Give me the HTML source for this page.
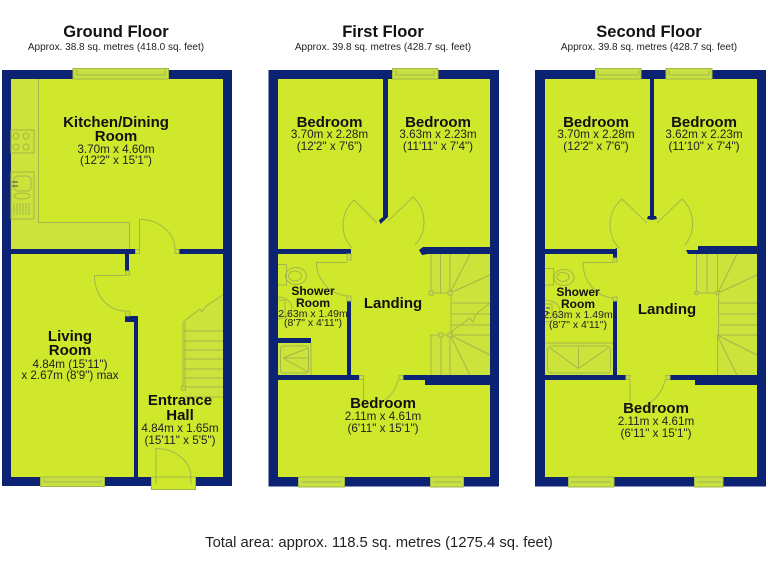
<!DOCTYPE html>
<html><head><meta charset="utf-8"><style>
html,body{margin:0;padding:0;background:#fff;width:768px;height:576px;overflow:hidden}
svg{display:block}
text{font-family:"Liberation Sans",sans-serif;fill:#1a1a1a;text-anchor:middle}
.t{font-size:16.5px;font-weight:bold;fill:#111}
.s{font-size:10px;fill:#222}
.n{font-size:15px;font-weight:bold;fill:#111}
.d{font-size:11.7px;fill:#222}
.sn{font-size:12px;font-weight:bold;fill:#111}
.sd{font-size:10.5px;fill:#222}
.w{fill:#0c2272}
.f{fill:#cfe82c}
.l{fill:none;stroke:#a3b84a;stroke-width:1}
.p{fill:#c9e043;stroke:#a3b84a;stroke-width:1}
.g{fill:#cbe33a}
</style></head><body>
<svg width="768" height="576" viewBox="0 0 768 576" xmlns="http://www.w3.org/2000/svg">
<!-- ground floor -->
<rect class="w" x="2" y="70" width="230" height="416"/>
<rect class="f" x="11" y="79" width="212" height="398"/>
<path class="g" d="M11 79H39V222H130V249H11Z"/>
<path class="l" d="M38.500 79V222.500H129.500V249"/>
<rect class="w" x="11" y="249" width="124" height="5"/>
<rect class="w" x="179" y="249" width="44" height="5"/>
<rect class="w" x="125" y="254" width="4" height="17"/>
<path class="w" d="M125 316H138V477H134V322H125Z"/>
<rect class="p" x="135.500" y="249.500" width="4" height="4"/>
<rect class="p" x="175" y="249.500" width="4" height="4"/>
<rect class="p" x="125.500" y="271" width="4" height="4"/>
<rect class="p" x="125.500" y="311" width="4" height="5"/>
<path class="l" d="M139.500 249V219.500A35 30 0 0 1 175 249"/>
<path class="l" d="M125 275.500H94.500A31 35 0 0 0 125 311"/>
<!-- kitchen fittings -->
<rect class="l" x="11" y="130" width="23" height="23"/>
<circle class="l" cx="16" cy="136" r="3"/><circle class="l" cx="26" cy="136" r="3"/>
<circle class="l" cx="16" cy="147" r="3"/><circle class="l" cx="26" cy="147" r="3"/>
<rect class="l" x="11" y="172" width="23" height="47"/>
<rect class="l" x="14" y="176" width="17" height="15" rx="4"/>
<ellipse class="l" cx="22" cy="196" rx="8" ry="3"/>
<path class="l" d="M14 203V215M17 203V215M20 203V215M23 203V215M26 203V215M29 203V215"/>
<path d="M12 182H18M12 186H18" stroke="#445" stroke-width="1" fill="none"/>
<!-- stairs ground -->
<path class="g" d="M183 322L223 295V397H183Z"/>
<path class="l" d="M183 322L200 309L202 312L206 306L223 295M183 322V388M185 322V388M183 331H223M183 341H223M183 350H223M183 359H223M183 369H223M183 378H223M183 387H223M185 397H223"/>
<rect class="p" x="181.500" y="386" width="4" height="4"/>
<!-- ground windows/doors -->
<path class="p" d="M73 79V68.500H168.500V79Z"/><path class="l" d="M76 75H166M77 70V75M165 70V75"/>
<path class="p" d="M40.500 477V486.500H104.500V477Z"/><path class="l" d="M44 482H101M44 479V482M101 479V482"/>
<rect class="f" x="151" y="477" width="44" height="13"/>
<rect class="l" x="151.500" y="477" width="44" height="12.500"/>
<path class="l" d="M156 477V448.500A35 29 0 0 1 191 477M156 477V484M191 477V484"/>
<!-- first floor -->
<rect class="w" x="268.500" y="70" width="230.500" height="416.500"/>
<rect class="f" x="278" y="79" width="212" height="398"/>
<rect class="w" x="383" y="79" width="5" height="138"/>
<path class="w" d="M383 217H388L380.500 224L379 220Z"/>
<rect class="w" x="278" y="249" width="70" height="5"/>
<path class="w" d="M347 249H351V254H347Z"/>
<path class="w" d="M419 250L423 247H490V254H428L422 255Z"/>
<rect class="w" x="347" y="301" width="4" height="74"/>
<rect class="w" x="278" y="375" width="81" height="5"/>
<path class="w" d="M403 375H490V385H425V380H403Z"/>
<rect class="w" x="278" y="338" width="33" height="5"/>
<rect class="p" x="347" y="254" width="4" height="6"/>
<rect class="p" x="347" y="296" width="4" height="5"/>
<rect class="p" x="359.500" y="375.500" width="4" height="4"/>
<rect class="p" x="399" y="375.500" width="4" height="4"/>
<path class="l" d="M377 223L354 200A34 34 0 0 0 352 248M388 221L413 197A34 34 0 0 1 415 245"/>
<path class="l" d="M347 262.500H316.500A34 34 0 0 0 347 296"/>
<path class="l" d="M363.500 380V402M398 380A36 36 0 0 1 382 402"/>
<!-- first fittings -->
<path class="l" d="M278 264.500H286.500V285H278"/><ellipse class="l" cx="296" cy="276" rx="10.500" ry="8.500"/><ellipse class="l" cx="295" cy="276" rx="6.500" ry="5"/>
<path class="l" d="M278 297A14 11 0 0 1 278 319M278 300H285V316H278"/>
<rect class="g" x="278" y="343" width="33" height="32"/>
<rect class="l" x="280.500" y="346" width="28" height="27" rx="3"/>
<path class="l" d="M283 358L308 348M283 358L308 372M283 358H308"/>
<path class="l" d="M311 343V375"/>
<!-- first stairs -->
<path class="g" d="M431 254H490V375H431V335H451V293H431Z"/>
<path class="l" d="M431 254V293M440.500 254V293M450 254V293M430 293H450M450 293L470 254M450 293L490 275M451 293V335M451 303H490M451 314H490M451 325H490M451 335H490M451 332L470 318L473 322L476 314L490 303M431 335V375M441 335V375M450 335V375M430 335H450M450 335L490 355M450 335L470 375"/>
<rect class="p" x="429" y="291" width="4" height="4"/><rect class="p" x="448" y="291" width="4" height="4"/>
<rect class="p" x="439" y="333" width="4" height="4"/><rect class="p" x="448" y="333" width="4" height="4"/>
<!-- first windows -->
<path class="p" d="M392.500 79V68.500H438V79Z"/><path class="l" d="M395 75H435M396 70V75M434 70V75"/>
<path class="p" d="M298.500 477V487H344.500V477Z"/><path class="l" d="M301 482H342"/>
<path class="p" d="M430.500 477V487H463.500V477Z"/><path class="l" d="M433 482H461"/>
<!-- second floor -->
<rect class="w" x="535" y="70" width="231" height="416.500"/>
<rect class="f" x="545" y="79" width="212" height="398"/>
<rect class="w" x="650" y="79" width="4" height="138"/>
<path class="w" d="M648 216H656L657 219L652 220L647 219Z"/>
<rect class="w" x="545" y="249" width="70" height="5"/>
<path class="w" d="M613 250L617 248V258H613Z"/>
<path class="w" d="M686 250H698V246H757V254H688Z"/>
<rect class="w" x="613" y="301" width="4" height="74"/>
<rect class="w" x="545" y="375" width="81" height="5"/>
<path class="w" d="M670 375H757V385H695V380H670Z"/>
<rect class="p" x="613" y="258" width="4" height="4"/>
<rect class="p" x="613" y="297" width="4" height="4"/>
<rect class="p" x="626" y="375.500" width="4" height="4"/>
<rect class="p" x="666" y="375.500" width="4" height="4"/>
<path class="l" d="M647 223L622 199A34 34 0 0 0 619 248M657 223L682 199A34 34 0 0 1 685 245"/>
<path class="l" d="M613 262.500H583A32 36 0 0 0 613 298"/>
<path class="l" d="M630 380V402M665 380A36 36 0 0 1 646 405"/>
<!-- second fittings -->
<path class="l" d="M545 268.500H553.500V285H545"/><ellipse class="l" cx="564" cy="277.500" rx="10" ry="8"/><ellipse class="l" cx="563" cy="277" rx="6" ry="4.500"/>
<path class="l" d="M545 300A15 11 0 0 1 545 322M545 304H552V318H545"/>
<path d="M546 308H550M546 313H550" stroke="#2b3c9a" stroke-width="1" fill="none"/>
<rect class="g" x="545" y="343" width="68" height="32"/>
<path class="l" d="M545 343H613"/>
<rect class="l" x="547.500" y="346" width="63" height="27" rx="4"/>
<path class="l" d="M578.500 368.500L550 348M578.500 368.500L608 348M578.500 368.500V348"/>
<!-- second stairs -->
<path class="g" d="M696 254H757V375H718V335H718V293H696Z"/>
<path class="l" d="M696.500 254V293M707 254V293M717.500 254V293M695 293H718M718 293L737 254M718 293L757 275M718.500 293V335M719 303H757M719 314H757M719 325H757M717 335H757M717 335L757 355M717 335L737 375M717.500 335V375"/>
<rect class="p" x="695" y="291.500" width="3" height="3"/><rect class="p" x="716" y="291.500" width="3" height="3"/>
<!-- second windows -->
<path class="p" d="M595.500 79V68.500H641V79Z"/><path class="l" d="M598 75H638M598 70V75M639 70V75"/>
<path class="p" d="M666 79V68.500H712V79Z"/><path class="l" d="M669 75H709M669 70V75M709 70V75"/>
<path class="p" d="M568.500 477V487H614V477Z"/><path class="l" d="M571 482H611"/>
<path class="p" d="M694.500 477V487H723V477Z"/><path class="l" d="M697 482H721"/>
<!-- labels -->
<text class="t" x="116" y="37">Ground Floor</text>
<text class="s" x="116" y="50">Approx. 38.8 sq. metres (418.0 sq. feet)</text>
<text class="t" x="383" y="37">First Floor</text>
<text class="s" x="383" y="50">Approx. 39.8 sq. metres (428.7 sq. feet)</text>
<text class="t" x="649" y="37">Second Floor</text>
<text class="s" x="649" y="50">Approx. 39.8 sq. metres (428.7 sq. feet)</text>

<text class="n" x="116" y="127">Kitchen/Dining</text>
<text class="n" x="116" y="141">Room</text>
<text class="d" x="116" y="153">3.70m x 4.60m</text>
<text class="d" x="116" y="164">(12'2" x 15'1")</text>

<text class="n" x="70" y="341">Living</text>
<text class="n" x="70" y="355">Room</text>
<text class="d" x="70" y="368">4.84m (15'11")</text>
<text class="d" x="70" y="379">x 2.67m (8'9") max</text>

<text class="n" x="180" y="405">Entrance</text>
<text class="n" x="180" y="420">Hall</text>
<text class="d" x="180" y="432">4.84m x 1.65m</text>
<text class="d" x="180" y="444">(15'11" x 5'5")</text>

<text class="n" x="329.500" y="127">Bedroom</text>
<text class="d" x="329.500" y="138">3.70m x 2.28m</text>
<text class="d" x="329.500" y="150">(12'2" x 7'6")</text>
<text class="n" x="438" y="127">Bedroom</text>
<text class="d" x="438" y="138">3.63m x 2.23m</text>
<text class="d" x="438" y="150">(11'11" x 7'4")</text>

<text class="sn" x="313" y="295">Shower</text>
<text class="sn" x="313" y="307">Room</text>
<text class="sd" x="313" y="317">2.63m x 1.49m</text>
<text class="sd" x="313" y="326">(8'7" x 4'11")</text>
<text class="n" x="393" y="308">Landing</text>
<text class="n" x="383" y="408">Bedroom</text>
<text class="d" x="383" y="420">2.11m x 4.61m</text>
<text class="d" x="383" y="432">(6'11" x 15'1")</text>

<text class="n" x="596" y="127">Bedroom</text>
<text class="d" x="596" y="138">3.70m x 2.28m</text>
<text class="d" x="596" y="150">(12'2" x 7'6")</text>
<text class="n" x="704" y="127">Bedroom</text>
<text class="d" x="704" y="138">3.62m x 2.23m</text>
<text class="d" x="704" y="150">(11'10" x 7'4")</text>

<text class="sn" x="578" y="296">Shower</text>
<text class="sn" x="578" y="308">Room</text>
<text class="sd" x="578" y="318">2.63m x 1.49m</text>
<text class="sd" x="578" y="328">(8'7" x 4'11")</text>
<text class="n" x="667" y="314">Landing</text>
<text class="n" x="656" y="413">Bedroom</text>
<text class="d" x="656" y="425">2.11m x 4.61m</text>
<text class="d" x="656" y="437">(6'11" x 15'1")</text>

<text x="379" y="547" font-size="14.800" style="fill:#222">Total area: approx. 118.5 sq. metres (1275.4 sq. feet)</text>
</svg>
</body></html>
